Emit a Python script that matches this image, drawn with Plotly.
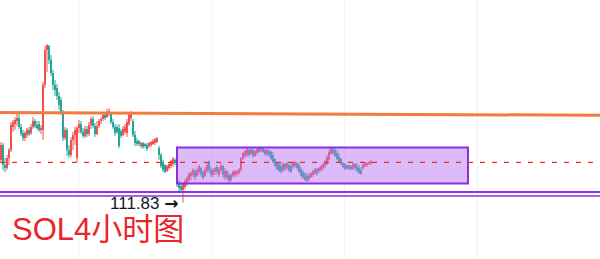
import plotly.graph_objects as go

# ---- data ----
opens = [116.1,117.6,115.6,115.3,116.3,117.1,119.4,119.7,120.0,120.3,119.4,118.8,118.3,118.6,119.1,118.8,119.4,120.0,119.6,119.7,
         119.1,119.1,123.6,127.1,127.5,126.1,124.8,123.6,123.3,122.5,122.1,120.9,118.3,119.1,117.1,116.6,118.1,118.6,116.3,119.3,
         119.7,118.9,118.5,119.2,118.7,119.6,120.2,119.5,118.7,119.5,120.0,120.2,120.6,120.4,120.8,120.7,119.9,119.4,119.4,119.3,
         119.0,118.6,118.9,118.8,119.7,120.3,120.0,118.6,118.0,118.0,117.5,117.8,117.7,117.6,117.5,117.6,117.7,117.8,117.9,117.3,
         116.6,115.9,115.6,115.0,115.3,115.5,115.7,116.1,115.6,113.9,113.5,113.1,113.4,113.8,114.1,114.5,114.6,115.0,114.5,114.9,
         115.3,114.9,114.5,115.0,115.9,115.2,114.6,114.9,115.4,114.6,115.1,115.5,114.4,115.0,114.6,114.1,114.5,114.6,114.7,114.8,
         115.1,116.2,116.5,116.6,117.1,116.7,117.1,116.5,116.8,117.3,117.0,117.3,117.1,116.7,117.0,116.9,116.6,116.2,115.8,115.7,
         115.5,115.1,115.7,115.3,115.6,115.5,115.4,115.5,115.8,115.6,115.2,114.9,114.7,114.5,114.2,114.4,114.6,114.8,115.2,115.0,
         115.1,115.3,115.5,115.7,116.1,116.7,117.2,117.1,116.8,116.5,116.2,115.8,115.7,115.3,115.6,115.5,115.2,115.7,115.5,115.3,
         115.1,115.3,115.5,115.6,115.7,115.8]
highs = [117.9,117.8,116.3,116.6,117.3,119.9,120.1,120.4,120.8,120.9,119.7,119.1,119.0,119.3,119.4,119.7,120.4,120.2,120.0,120.0,
         119.6,123.9,127.5,127.7,127.6,126.6,125.1,124.1,123.7,122.9,122.4,121.1,119.4,119.3,117.6,118.4,118.9,119.4,119.5,120.1,
         120.0,119.3,119.5,119.5,119.9,120.4,120.5,119.8,120.0,120.2,120.4,120.9,120.9,121.2,121.3,120.9,120.2,119.7,119.6,119.7,
         119.2,119.5,119.7,120.2,120.9,121.0,120.2,119.0,118.3,118.1,117.9,117.9,117.8,117.8,117.9,118.0,118.2,118.3,118.4,117.5,
         116.8,116.1,115.7,115.6,115.8,116.1,116.4,116.3,115.8,114.1,113.8,113.9,114.2,114.5,114.9,115.0,115.3,115.2,115.3,115.6,
         115.4,115.1,115.4,115.8,116.1,115.4,115.3,115.4,115.6,115.4,115.8,115.6,115.3,115.1,114.8,114.8,115.1,115.1,115.1,115.3,
         116.4,116.9,117.1,117.3,117.2,117.3,117.2,117.1,117.3,117.4,117.4,117.4,117.2,117.2,117.1,117.1,116.9,116.3,115.9,115.8,
         115.8,115.9,115.8,115.9,115.7,115.8,116.0,116.0,115.9,115.8,115.4,115.1,114.9,114.8,114.8,114.9,115.1,115.3,115.3,115.4,
         115.6,115.8,116.1,116.6,117.1,117.4,117.4,117.3,117.1,116.8,116.3,115.9,115.8,115.6,115.6,115.6,115.8,115.8,115.8,115.6,
         115.4,115.8,115.9,115.9,116.0,116.1]
lows = [115.9,115.1,114.9,115.1,115.6,116.9,118.9,119.1,119.5,119.2,118.5,118.0,118.0,118.3,118.5,118.6,119.2,119.3,119.1,118.9,
        118.7,118.1,123.3,124.9,125.7,124.5,123.1,122.5,122.1,121.1,120.6,118.0,118.1,116.5,116.3,116.4,117.1,117.6,115.9,118.8,
        118.7,118.3,118.3,118.4,118.5,119.2,119.3,118.4,118.6,119.3,119.7,120.0,120.1,120.3,120.5,119.7,119.2,118.5,118.7,117.3,
        118.3,118.5,118.7,118.4,119.5,120.0,118.4,117.5,117.5,117.5,117.3,117.2,117.3,117.0,117.3,117.4,117.6,117.6,117.8,116.1,
        115.3,114.9,114.8,114.9,115.1,115.3,115.4,115.6,113.4,112.9,112.8,111.83,113.2,113.5,113.9,114.1,114.4,114.1,114.4,114.6,
        114.4,114.1,114.4,114.8,114.8,114.4,114.4,114.6,114.6,114.4,114.8,114.3,114.1,114.1,113.8,113.9,114.3,114.4,114.4,114.6,
        114.9,116.1,116.3,116.4,116.4,116.6,116.3,116.4,116.6,116.8,116.9,116.8,116.5,116.5,116.4,116.1,115.8,115.4,115.1,114.9,
        114.8,114.9,115.0,115.1,114.9,114.8,115.2,115.3,115.1,114.8,114.4,114.2,114.0,113.9,114.0,114.3,114.4,114.6,114.5,114.8,
        114.9,115.1,115.3,115.6,116.0,116.6,116.6,116.4,116.1,115.8,115.6,115.3,115.1,115.1,115.1,115.1,115.1,115.1,114.9,114.7,
        114.6,115.1,115.4,115.4,115.6,115.6]
closes = [117.6,115.6,115.3,116.3,117.1,119.6,119.9,120.1,120.3,119.4,118.7,118.3,118.8,119.1,118.7,119.4,120.0,119.5,119.3,119.1,
          119.3,123.6,127.1,127.6,126.1,124.8,123.6,123.1,122.5,121.6,120.9,118.3,119.1,117.1,116.6,118.1,118.6,119.1,119.3,119.7,
          118.9,118.5,119.2,118.7,119.6,120.2,119.5,118.7,119.5,120.0,120.2,120.6,120.3,120.9,121.0,119.9,119.4,118.8,118.9,117.5,
          118.5,119.2,119.4,119.9,120.6,120.8,118.6,117.8,117.7,117.7,117.8,117.4,117.5,117.2,117.8,117.9,118.0,118.2,118.3,116.6,
          115.5,115.1,114.9,115.5,115.7,116.0,116.2,115.8,113.9,113.3,113.1,113.7,114.0,114.3,114.7,114.8,115.1,114.4,115.1,115.5,
          114.7,114.3,115.1,115.6,115.1,114.6,115.1,115.3,114.9,115.2,115.6,114.6,115.0,114.3,114.0,114.6,114.9,115.0,115.0,115.2,
          116.3,116.8,117.0,117.2,116.6,117.2,116.5,117.0,117.2,116.9,117.3,116.9,116.7,117.1,116.6,116.2,115.9,115.5,115.2,115.0,
          114.9,115.7,115.2,115.8,115.0,114.9,115.9,115.9,115.3,114.9,114.5,114.3,114.1,114.0,114.6,114.8,115.0,115.2,114.7,115.3,
          115.5,115.7,116.0,116.4,116.9,117.3,116.8,116.5,116.2,115.9,115.7,115.4,115.2,115.6,115.2,115.2,115.7,115.3,115.0,114.8,
          114.7,115.6,115.8,115.8,115.9,116.0]
bars = list(range(len(closes)))

resistance = (120.85, 120.57)      # sloped orange line (start, end)
mid_level = 115.87                 # red dashed line
support_levels = [112.9, 112.5]    # purple double line
box_bars = (88, 233.5)             # consolidation box (bar span)
box_prices = (113.75, 117.35)      # consolidation box (price span)
low_value = 111.83
low_bar = 91
title_text = "SOL4小时图"

UP = "#ef5350"
DOWN = "#26a69a"

fig = go.Figure()

# wicks and bodies drawn per direction
for is_up, color in [(True, UP), (False, DOWN)]:
    idx = [i for i in bars if (closes[i] >= opens[i]) == is_up]
    wx, wy = [], []
    for i in idx:
        wx += [i, i, None]
        wy += [lows[i], highs[i], None]
    fig.add_trace(go.Scatter(x=wx, y=wy, mode="lines", line=dict(color=color, width=1),
                             hoverinfo="skip", showlegend=False))
    fig.add_trace(go.Bar(x=idx,
                         y=[max(abs(closes[i] - opens[i]), 0.05) for i in idx],
                         base=[min(opens[i], closes[i]) for i in idx],
                         width=0.75, marker=dict(color=color, line=dict(width=0)),
                         hoverinfo="skip", showlegend=False))

x_lo, x_hi = -0.5, 299.5
shapes = [
    dict(type="rect", xref="x", yref="y", x0=box_bars[0], x1=box_bars[1], y0=box_prices[0], y1=box_prices[1],
         fillcolor="rgba(185,120,245,0.5)", line=dict(color="#8e2de2", width=2), layer="above"),
    dict(type="line", xref="x", yref="y", x0=x_lo, x1=x_hi, y0=mid_level, y1=mid_level,
         line=dict(color="#e5332a", width=1.3, dash="5px,7px"), layer="above"),
    dict(type="line", xref="x", yref="y", x0=x_lo, x1=x_hi, y0=resistance[0], y1=resistance[1],
         line=dict(color="#f37b3e", width=3), layer="above"),
    dict(type="line", xref="x", yref="y", x0=x_lo, x1=x_hi, y0=support_levels[0], y1=support_levels[0],
         line=dict(color="#8b32e6", width=2), layer="above"),
    dict(type="line", xref="x", yref="y", x0=x_lo, x1=x_hi, y0=support_levels[1], y1=support_levels[1],
         line=dict(color="#8b32e6", width=1.5), layer="above"),
]

annotations = [
    dict(x=low_bar - 1.5, y=low_value, xref="x", yref="y",
         text=f"{low_value:.2f} <span style='font-family:DejaVu Sans;font-weight:bold'>→</span>",
         showarrow=False, xanchor="right", yanchor="middle",
         font=dict(family="Liberation Sans, Arial", size=17, color="#131722")),
    dict(x=10/600, y=1 - 229/259, xref="paper", yref="paper", text=title_text, showarrow=False,
         xanchor="left", yanchor="middle",
         font=dict(family="Liberation Sans, Arial, Noto Sans CJK SC", size=31, color="#e8262b")),
]

fig.update_layout(
    width=600, height=259, margin=dict(l=0, r=0, t=0, b=0),
    paper_bgcolor="white", plot_bgcolor="white", barmode="overlay",
    shapes=shapes, annotations=annotations, showlegend=False,
    xaxis=dict(range=[x_lo, x_hi], showticklabels=False, showgrid=True, gridcolor="#f0f3fa", gridwidth=1,
               tick0=38.5, dtick=66.5, zeroline=False, fixedrange=True),
    yaxis=dict(range=[106.2, 132.1], showticklabels=False, showgrid=False, zeroline=False, fixedrange=True),
)

fig.write_html("out.html", config={"displayModeBar": False})
